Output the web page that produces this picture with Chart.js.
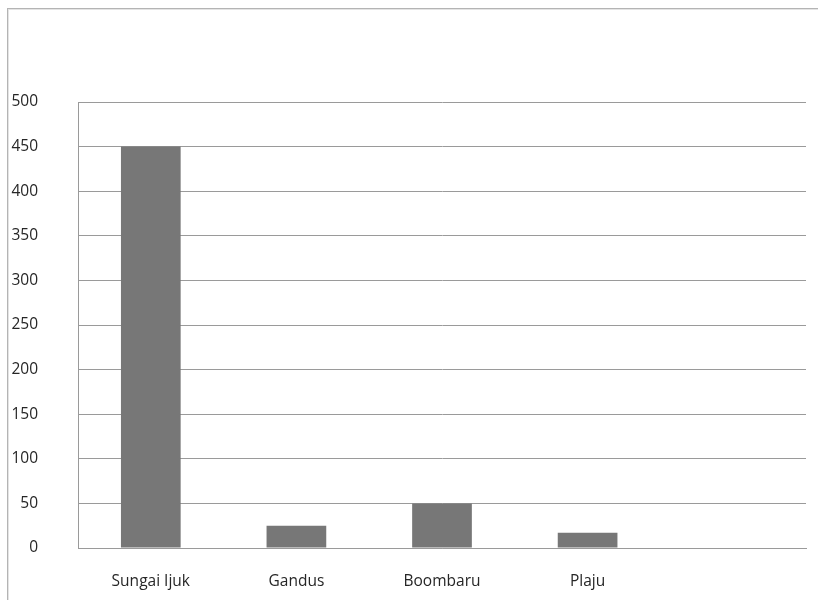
<!DOCTYPE html>
<html>
<head>
<meta charset="utf-8">
<script src="https://cdn.jsdelivr.net/npm/chart.js@4.4.1/dist/chart.umd.min.js"></script>
<style>
  html, body { margin: 0; padding: 0; background: #fff; }
  #wrap { position: relative; width: 818px; height: 600px; overflow: hidden; }
  #frame { position: absolute; left: 7px; top: 8px; width: 840px; height: 640px;
           border: 1px solid #b4b4b4; box-shadow: inset 1px 1px 0 #e4e4e4; }
  canvas { position: absolute; left: 0; top: 0; }
</style>
</head>
<body>
<div id="wrap">
  <div id="frame"></div>
  <canvas id="chart" width="818" height="600"></canvas>
</div>
<script>
// categories (last slot is empty in the original)
const categories = ['Sungai Ijuk', 'Gandus', 'Boombaru', 'Plaju', ''];
const values = [450, 25, 50, 17, null];
const yTicks = [0, 50, 100, 150, 200, 250, 300, 350, 400, 450, 500];

const textColor = '#262626';
const gridColor = '#9a9a9a';

new Chart(document.getElementById('chart'), {
  type: 'bar',
  data: {
    labels: categories,
    datasets: [{
      data: values,
      backgroundColor: '#777777',
      borderWidth: 0,
      categoryPercentage: 1,
      barPercentage: 0.41
    }]
  },
  options: {
    responsive: false,
    animation: false,
    layout: { padding: { top: 102, right: 12, left: 0, bottom: 0 } },
    plugins: { legend: { display: false }, tooltip: { enabled: false } },
    scales: {
      x: {
        grid: { display: false, drawTicks: false },
        border: { display: true, color: gridColor, width: 1 },
        ticks: { color: textColor, font: { family: 'Open Sans', size: 15.5 }, padding: 24, maxRotation: 0 },
        afterFit: (s) => { s.height = 52; }
      },
      y: {
        min: 0,
        max: 500,
        afterBuildTicks: (s) => { s.ticks = yTicks.map(v => ({ value: v })); },
        grid: { color: gridColor, drawTicks: false },
        border: { display: true, color: gridColor, width: 1 },
        ticks: { color: textColor, font: { family: 'Open Sans', size: 15.5 }, padding: 40 },
        afterFit: (s) => { s.width = 78; }
      }
    }
  }
});
</script>
</body>
</html>
